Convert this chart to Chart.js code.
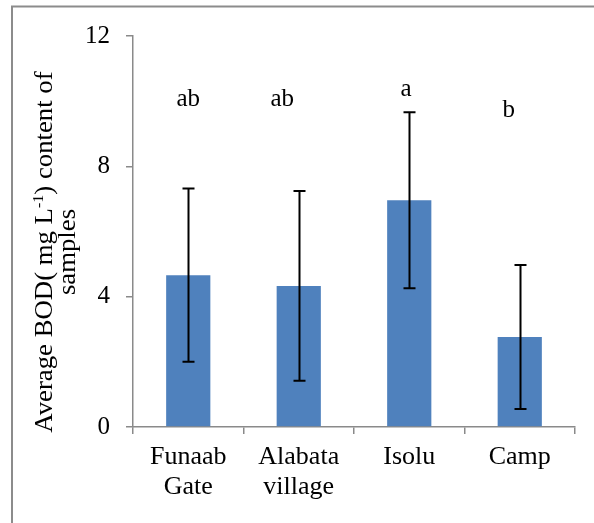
<!DOCTYPE html>
<html>
<head>
<meta charset="utf-8">
<script src="https://cdn.jsdelivr.net/npm/chart.js@4.4.1/dist/chart.umd.min.js"></script>
<style>
  html, body { margin: 0; padding: 0; background: #fff; }
  #wrap { width: 594px; height: 523px; position: relative; }
</style>
</head>
<body>
<div id="wrap"><canvas id="bod"></canvas></div>
<script>
// data
const categories = [['Funaab', 'Gate'], ['Alabata', 'village'], 'Isolu', 'Camp'];
const means = [4.66, 4.33, 6.96, 2.76];
const errors = [2.66, 2.91, 2.70, 2.21];
const letters = ['ab', 'ab', 'a', 'b'];
const letterY = [9.85, 9.85, 10.16, 9.51];      // baseline of the significance letters, in mg/L
const letterShift = [0, -0.15, -0.03, -0.1];    // offset in category widths
const yTicks = [0, 4, 8, 12];

const serif = '"Liberation Serif", "Times New Roman", serif';
const axisGray = '#8a8a8a';

// outer frame (left/top edges visible, rest runs off the picture)
const framePlugin = {
  id: 'frame',
  beforeDraw(chart) {
    const ctx = chart.ctx;
    ctx.save();
    ctx.strokeStyle = '#8c8c8c';
    ctx.lineWidth = 2;
    ctx.strokeRect(12, 6.5, 800, 800);
    ctx.restore();
  },
};

// error bars + letters
const errPlugin = {
  id: 'errbars',
  afterDatasetsDraw(chart) {
    const { ctx, scales: { x, y } } = chart;
    const step = x.getPixelForValue(1) - x.getPixelForValue(0);
    ctx.save();
    ctx.strokeStyle = '#000';
    ctx.lineWidth = 2;
    means.forEach((m, i) => {
      const cx = Math.round(x.getPixelForValue(i)) + 0.5;
      const top = y.getPixelForValue(m + errors[i]);
      const bot = y.getPixelForValue(m - errors[i]);
      ctx.beginPath();
      ctx.moveTo(cx, top); ctx.lineTo(cx, bot);
      ctx.moveTo(cx - 6, top); ctx.lineTo(cx + 6, top);
      ctx.moveTo(cx - 6, bot); ctx.lineTo(cx + 6, bot);
      ctx.stroke();
    });
    ctx.fillStyle = '#000';
    ctx.font = '25px ' + serif;
    ctx.textAlign = 'center';
    ctx.textBaseline = 'alphabetic';
    letters.forEach((t, i) => {
      ctx.fillText(t, x.getPixelForValue(i) + letterShift[i] * step, y.getPixelForValue(letterY[i]));
    });
    ctx.restore();
  },
};

// rotated y title with superscript, two lines
const yTitlePlugin = {
  id: 'ytitle',
  afterDraw(chart) {
    const ctx = chart.ctx;
    ctx.save();
    ctx.fillStyle = '#000';
    ctx.textBaseline = 'alphabetic';
    ctx.translate(52, 252);
    ctx.rotate(-Math.PI / 2);
    ctx.scale(1.07, 1);
    const big = '25px ' + serif, small = '15px ' + serif;
    const parts = [['Average BOD( mg L', big, 0], ['-1', small, -9], [') content of', big, 0]];
    let w = 0;
    parts.forEach(p => { ctx.font = p[1]; w += ctx.measureText(p[0]).width; });
    let px = -w / 2;
    ctx.textAlign = 'left';
    parts.forEach(p => {
      ctx.font = p[1];
      ctx.fillText(p[0], px, p[2]);
      px += ctx.measureText(p[0]).width;
    });
    ctx.font = big;
    ctx.textAlign = 'center';
    ctx.fillText('samples', 0, 23);
    ctx.restore();
  },
};

new Chart(document.getElementById('bod'), {
  type: 'bar',
  data: {
    labels: categories,
    datasets: [{
      data: means,
      backgroundColor: '#4f81bd',
      borderWidth: 0,
      barPercentage: 0.4,
      categoryPercentage: 1,
    }],
  },
  options: {
    responsive: true,
    maintainAspectRatio: false,
    animation: false,
    devicePixelRatio: 1,
    layout: { padding: { left: 0, top: 36, right: 19, bottom: 0 } },
    plugins: { legend: { display: false }, tooltip: { enabled: false } },
    scales: {
      x: {
        grid: { offset: true, drawOnChartArea: false, drawTicks: true, tickLength: 7, color: axisGray, lineWidth: 1.5 },
        border: { display: true, color: axisGray, width: 1.5 },
        ticks: { color: '#000', font: { family: serif, size: 26, lineHeight: 1.12 }, padding: 9, maxRotation: 0 },
        afterFit(s) { s.height = 96; },
      },
      y: {
        min: 0, max: 12,
        afterBuildTicks(s) { s.ticks = yTicks.map(v => ({ value: v })); },
        grid: { drawOnChartArea: false, drawTicks: true, tickLength: 7, color: axisGray, lineWidth: 1.5 },
        border: { display: true, color: axisGray, width: 1.5 },
        ticks: { color: '#000', font: { family: serif, size: 25 }, padding: 16 },
        afterFit(s) { s.width = 133; },
      },
    },
  },
  plugins: [framePlugin, errPlugin, yTitlePlugin],
});
</script>
</body>
</html>
